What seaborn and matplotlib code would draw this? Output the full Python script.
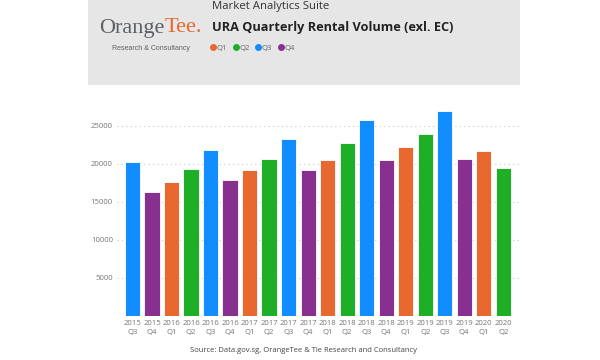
import matplotlib
matplotlib.use("Agg")
import matplotlib.pyplot as plt
from matplotlib.patches import Rectangle
from matplotlib.lines import Line2D
import seaborn as sns

# data
years = ["2015", "2015", "2016", "2016", "2016", "2016", "2017", "2017", "2017", "2017",
         "2018", "2018", "2018", "2018", "2019", "2019", "2019", "2019", "2020", "2020"]
quarters = ["Q3", "Q4", "Q1", "Q2", "Q3", "Q4", "Q1", "Q2", "Q3", "Q4",
            "Q1", "Q2", "Q3", "Q4", "Q1", "Q2", "Q3", "Q4", "Q1", "Q2"]
volumes = [20200, 16300, 17600, 19400, 21800, 17850, 19200, 20600, 23350, 19250,
           20550, 22750, 25850, 20550, 22250, 23900, 26950, 20650, 21650, 19450]
quarter_colors = {"Q1": "#E8692F", "Q2": "#1FAF26", "Q3": "#118DFF", "Q4": "#88308F"}
yticks = [5000, 10000, 15000, 20000, 25000]

sns.set_style("white")
plt.rcParams["font.family"] = ["Open Sans", "DejaVu Sans"]

fig = plt.figure(figsize=(6, 3.6), dpi=100)

# grey header band
fig.patches.append(Rectangle((88 / 600, 1 - 85 / 360), (520 - 88) / 600, 85 / 360,
                             transform=fig.transFigure, facecolor="#E6E6E6",
                             edgecolor="none", zorder=0))

ax = fig.add_axes([117 / 600, 1 - 316 / 360, (520 - 117) / 600, (316 - 107) / 360])
labels = [f"{y}\n{q}" for y, q in zip(years, quarters)]
sns.barplot(x=list(range(len(labels))), y=volumes, hue=quarters, palette=quarter_colors,
            dodge=False, width=0.785, legend=False, ax=ax, saturation=1,
            edgecolor="white", linewidth=0.6)

ax.set_xlim(-0.8, 19.86)
ax.set_ylim(0, 27500)
ax.set_xticks(range(len(labels)))
ax.set_xticklabels(labels, fontsize=5.6, color="#777777", linespacing=1.3)
ax.set_yticks(yticks)
ax.set_yticklabels([str(v) for v in yticks], fontsize=5.6, color="#777777")
ax.tick_params(axis="both", length=0, pad=3)
ax.yaxis.grid(True, linestyle=(0, (1, 3)), color="#C8C8C8", linewidth=0.8)
ax.set_axisbelow(True)
for s in ax.spines.values():
    s.set_visible(False)
ax.set_xlabel("")
ax.set_ylabel("")

# logo: "Orange" grey, "Tee." orange right after it
logo = fig.text(99 / 600, 1 - 28 / 360, "Orange", family="Liberation Serif", fontsize=16,
                color="#5C6066", va="center", ha="left")
fig.canvas.draw()
bb = logo.get_window_extent()
fig.text(bb.x1 / fig.bbox.width + 0.001, 1 - 28 / 360, "Tee.", family="Liberation Serif",
         fontsize=16, color="#E8692F", va="center", ha="left")
fig.text(151 / 600, 1 - 48 / 360, "Research & Consultancy", fontsize=5,
         color="#5C6066", va="center", ha="center", family="Liberation Sans")

# header texts
fig.text(212 / 600, 1 - 7 / 360, "Market Analytics Suite", fontsize=8.2,
         color="#333333", va="center", ha="left")
fig.text(212 / 600, 1 - 28 / 360, "URA Quarterly Rental Volume (exl. EC)", fontsize=9.2,
         fontweight="bold", color="#222222", va="center", ha="left")

handles = [Line2D([], [], marker="o", linestyle="", markersize=4,
                  color=quarter_colors[q], label=q) for q in ["Q1", "Q2", "Q3", "Q4"]]
fig.legend(handles=handles, loc="center left", bbox_to_anchor=(209 / 600, 1 - 48 / 360),
           ncol=4, frameon=False, fontsize=5.5, handletextpad=0.0, columnspacing=0.6,
           handlelength=1.0, labelcolor="#666666", borderpad=0, borderaxespad=0)

fig.text(304 / 600, 1 - 351 / 360, "Source: Data.gov.sg, OrangeTee & Tie Research and Consultancy",
         fontsize=5.5, color="#444444", ha="center", va="center")

fig.savefig("out.png", dpi=100)
